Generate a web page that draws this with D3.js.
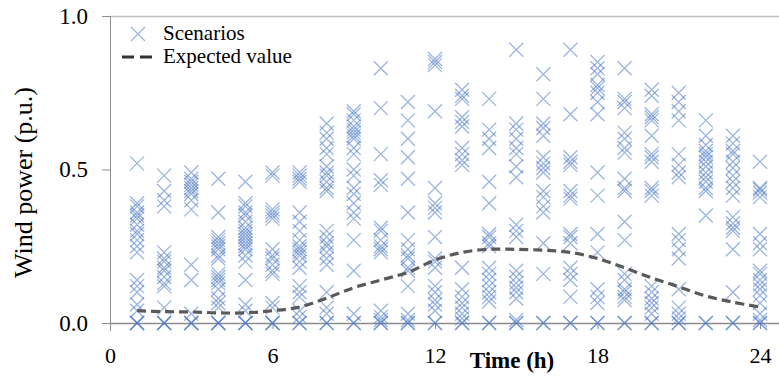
<!DOCTYPE html>
<html>
<head>
<meta charset="utf-8">
<script src="https://cdn.jsdelivr.net/npm/d3@7"></script>
<style>
  body { margin: 0; background: #fff; }
  svg { display: block; font-family: "Liberation Serif", "Times New Roman", serif; }
</style>
</head>
<body>
<svg id="chart" width="779" height="376"></svg>
<script>
const hours = [1, 2, 3, 4, 5, 6, 7, 8, 9, 10, 11, 12, 13, 14, 15, 16, 17, 18, 19, 20, 21, 22, 23, 24];

// wind power scenarios (p.u.) per hour
const scenarios = [
  [0.52, 0.39, 0.38, 0.36, 0.35, 0.34, 0.32, 0.30, 0.29, 0.27, 0.25, 0.23, 0.14, 0.12, 0.10, 0.06, 0.04, 0, 0, 0],
  [0.48, 0.43, 0.40, 0.38, 0.23, 0.21, 0.20, 0.18, 0.17, 0.15, 0.13, 0.12, 0.05, 0, 0, 0],
  [0.49, 0.47, 0.46, 0.45, 0.44, 0.43, 0.42, 0.40, 0.37, 0.19, 0.14, 0.03, 0, 0, 0],
  [0.47, 0.36, 0.28, 0.27, 0.26, 0.25, 0.24, 0.22, 0.21, 0.16, 0.15, 0.14, 0.13, 0.11, 0.08, 0.065, 0.05, 0, 0, 0],
  [0.46, 0.39, 0.38, 0.36, 0.35, 0.33, 0.31, 0.30, 0.29, 0.28, 0.27, 0.26, 0.25, 0.24, 0.22, 0.20, 0.14, 0.06, 0.04, 0, 0, 0],
  [0.49, 0.48, 0.37, 0.36, 0.35, 0.34, 0.24, 0.22, 0.21, 0.19, 0.17, 0.16, 0.065, 0.05, 0, 0, 0],
  [0.49, 0.48, 0.47, 0.46, 0.36, 0.33, 0.30, 0.27, 0.25, 0.24, 0.23, 0.22, 0.20, 0.18, 0.12, 0.10, 0.085, 0.04, 0.02, 0, 0],
  [0.65, 0.62, 0.60, 0.57, 0.55, 0.51, 0.49, 0.48, 0.46, 0.44, 0.43, 0.30, 0.28, 0.26, 0.25, 0.23, 0.21, 0.19, 0.10, 0.05, 0.03, 0, 0],
  [0.69, 0.68, 0.66, 0.64, 0.63, 0.62, 0.61, 0.60, 0.57, 0.55, 0.50, 0.48, 0.44, 0.42, 0.39, 0.36, 0.34, 0.27, 0.17, 0.03, 0, 0],
  [0.83, 0.70, 0.55, 0.465, 0.45, 0.31, 0.30, 0.27, 0.25, 0.24, 0.23, 0.04, 0.02, 0.01, 0, 0],
  [0.72, 0.66, 0.60, 0.54, 0.47, 0.36, 0.27, 0.24, 0.22, 0.21, 0.18, 0.17, 0.12, 0.03, 0.01, 0, 0],
  [0.86, 0.85, 0.84, 0.69, 0.44, 0.39, 0.375, 0.36, 0.28, 0.21, 0.20, 0.18, 0.12, 0.10, 0.075, 0.06, 0.04, 0, 0],
  [0.76, 0.74, 0.73, 0.67, 0.655, 0.64, 0.57, 0.55, 0.53, 0.515, 0.18, 0.11, 0.085, 0.065, 0.05, 0.03, 0.015, 0, 0],
  [0.73, 0.63, 0.60, 0.57, 0.46, 0.39, 0.29, 0.28, 0.26, 0.25, 0.18, 0.16, 0.14, 0.12, 0.10, 0.085, 0.07, 0, 0],
  [0.89, 0.65, 0.63, 0.60, 0.57, 0.55, 0.51, 0.475, 0.32, 0.30, 0.28, 0.17, 0.15, 0.13, 0.115, 0.10, 0.08, 0.01, 0, 0],
  [0.81, 0.73, 0.65, 0.635, 0.61, 0.54, 0.52, 0.505, 0.49, 0.43, 0.41, 0.38, 0.36, 0.26, 0.16, 0, 0],
  [0.89, 0.68, 0.54, 0.525, 0.515, 0.43, 0.415, 0.405, 0.29, 0.28, 0.26, 0.18, 0.16, 0.14, 0.085, 0, 0],
  [0.85, 0.83, 0.81, 0.775, 0.765, 0.75, 0.72, 0.68, 0.49, 0.415, 0.29, 0.23, 0.11, 0.085, 0.065, 0, 0],
  [0.83, 0.73, 0.72, 0.70, 0.62, 0.60, 0.57, 0.555, 0.47, 0.44, 0.43, 0.33, 0.27, 0.16, 0.14, 0.11, 0.10, 0.085, 0.075, 0, 0],
  [0.76, 0.74, 0.68, 0.67, 0.66, 0.61, 0.55, 0.54, 0.525, 0.44, 0.43, 0.415, 0.12, 0.10, 0.08, 0.065, 0.05, 0.03, 0, 0],
  [0.75, 0.72, 0.69, 0.66, 0.55, 0.515, 0.49, 0.475, 0.29, 0.27, 0.24, 0.21, 0.11, 0.05, 0.03, 0.015, 0, 0],
  [0.66, 0.61, 0.58, 0.56, 0.55, 0.54, 0.525, 0.51, 0.49, 0.475, 0.46, 0.44, 0.43, 0.35, 0, 0],
  [0.61, 0.585, 0.56, 0.55, 0.525, 0.505, 0.48, 0.46, 0.44, 0.415, 0.345, 0.325, 0.31, 0.30, 0.24, 0.10, 0, 0],
  [0.525, 0.44, 0.435, 0.425, 0.41, 0.29, 0.26, 0.24, 0.17, 0.16, 0.14, 0.125, 0.11, 0.09, 0.065, 0.03, 0.01, 0, 0]
];

const expected = [0.040, 0.037, 0.036, 0.033, 0.033, 0.040, 0.052, 0.081, 0.115, 0.140, 0.165, 0.205,
  0.230, 0.240, 0.240, 0.237, 0.230, 0.210, 0.180, 0.147, 0.118, 0.088, 0.068, 0.052];

const xTicks = [0, 6, 12, 18, 24];
const yTicks = [0, 0.5, 1.0];

const svg = d3.select('#chart');
const plotLeft = 110, plotRight = 760, plotTop = 16, plotBottom = 323;
const axisColor = '#8c8c8c';
const markerColor = '#4a78c4';

const x = d3.scaleLinear().domain([0, 24]).range([plotLeft, plotRight]);
const y = d3.scaleLinear().domain([0, 1]).range([plotBottom, plotTop]);

// top border of plot area
svg.append('line')
  .attr('x1', plotLeft).attr('x2', 779)
  .attr('y1', plotTop + 0.5).attr('y2', plotTop + 0.5)
  .attr('stroke', '#bfbfbf').attr('stroke-width', 1.5);

// Y axis
const yAxis = svg.append('g')
  .attr('transform', `translate(${plotLeft},0)`)
  .call(d3.axisLeft(y).tickValues(yTicks).tickFormat(d3.format('.1f')).tickSize(8).tickPadding(14));
yAxis.select('.domain').attr('stroke', axisColor).attr('d', `M0.5,${plotTop}V${plotBottom + 8}`);
yAxis.selectAll('.tick line').attr('stroke', axisColor);
yAxis.selectAll('.tick text')
  .attr('fill', '#000')
  .style('font-family', '"Liberation Serif", serif')
  .style('font-size', '23px');

// X axis
const xAxis = svg.append('g')
  .attr('transform', `translate(0,${plotBottom})`)
  .call(d3.axisBottom(x).tickValues(xTicks).tickSize(6).tickPadding(18));
xAxis.select('.domain').attr('stroke', axisColor).attr('stroke-width', 1.3).attr('d', `M${plotLeft},0.5H779`);
xAxis.selectAll('.tick line').attr('stroke', axisColor);
xAxis.selectAll('.tick text')
  .attr('fill', '#000')
  .style('font-family', '"Liberation Serif", serif')
  .style('font-size', '22px');

// axis titles
svg.append('text')
  .attr('transform', `translate(32,${(plotTop + plotBottom) / 2 + 13}) rotate(-90)`)
  .attr('text-anchor', 'middle')
  .style('font-size', '26px')
  .text('Wind power (p.u.)');

svg.append('text')
  .attr('x', 512).attr('y', 368)
  .attr('text-anchor', 'middle')
  .style('font-size', '23px')
  .style('font-weight', 'bold')
  .text('Time (h)');

// scenario markers
const crossPath = 'M-7,-7L7,7M-7,7L7,-7';
const points = [];
hours.forEach((h, i) => scenarios[i].forEach(v => points.push({h: h, v: v})));

svg.append('g')
  .selectAll('path')
  .data(points)
  .enter()
  .append('path')
  .attr('d', crossPath)
  .attr('transform', d => `translate(${x(d.h)},${y(d.v)})`)
  .attr('fill', 'none')
  .attr('stroke', markerColor)
  .attr('stroke-opacity', 0.55)
  .attr('stroke-width', 1.3);

// expected value curve
const line = d3.line()
  .x((d, i) => x(hours[i]))
  .y(d => y(d))
  .curve(d3.curveCatmullRom);

svg.append('path')
  .datum(expected)
  .attr('d', line)
  .attr('fill', 'none')
  .attr('stroke', '#595959')
  .attr('stroke-width', 3.2)
  .attr('stroke-dasharray', '9,5');

// legend
const legend = svg.append('g');
legend.append('path')
  .attr('d', crossPath)
  .attr('transform', 'translate(138,34)')
  .attr('fill', 'none')
  .attr('stroke', markerColor)
  .attr('stroke-opacity', 0.55)
  .attr('stroke-width', 1.3);
legend.append('text')
  .attr('x', 163).attr('y', 40)
  .style('font-size', '21px')
  .text('Scenarios');
legend.append('line')
  .attr('x1', 122).attr('x2', 153)
  .attr('y1', 57).attr('y2', 57)
  .attr('stroke', '#333')
  .attr('stroke-width', 3.2)
  .attr('stroke-dasharray', '12,6');
legend.append('text')
  .attr('x', 163).attr('y', 63)
  .style('font-size', '21px')
  .text('Expected value');
</script>
</body>
</html>
